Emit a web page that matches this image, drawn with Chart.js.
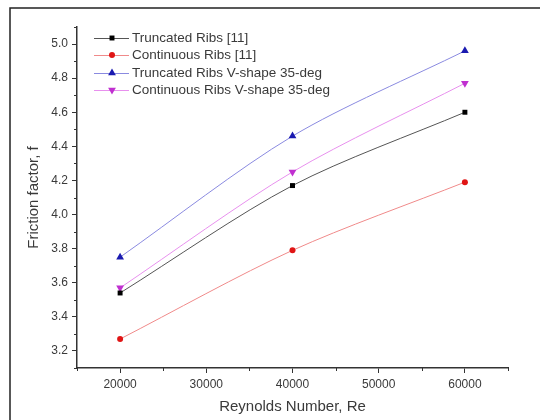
<!DOCTYPE html>
<html>
<head>
<meta charset="utf-8">
<script src="https://cdn.jsdelivr.net/npm/chart.js@4.4.1/dist/chart.umd.min.js"></script>
<style>
  html, body { margin: 0; padding: 0; background: #fff; }
  #wrap { width: 540px; height: 420px; }
</style>
</head>
<body>
<div id="wrap"><canvas id="frictionChart" width="540" height="420"></canvas></div>
<script>
// Reynolds number stations
const reynolds = [20000, 40000, 60000];

// friction factor per rib configuration
const truncatedRibs = [3.54, 4.17, 4.60];
const continuousRibs = [3.27, 3.79, 4.19];
const truncatedV35 = [3.75, 4.46, 4.96];
const continuousV35 = [3.57, 4.25, 4.77];

const seriesNames = [
    'Truncated Ribs [11]',
    'Continuous Ribs [11]',
    'Truncated Ribs V-shape 35-deg',
    'Continuous Ribs V-shape 35-deg'
];

// axis ticks
const xTicks = [20000, 30000, 40000, 50000, 60000];
const yTicks = [3.2, 3.4, 3.6, 3.8, 4.0, 4.2, 4.4, 4.6, 4.8, 5.0];
const xMinor = [15000, 25000, 35000, 45000, 55000, 65000];
const yMinor = [3.1, 3.3, 3.5, 3.7, 3.9, 4.1, 4.3, 4.5, 4.7, 4.9, 5.1];

const axisColor = '#333';
const textColor = '#3a3a3a';
const fontFamily = '"Liberation Sans", Arial, sans-serif';

function toPoints(vals) {
    return reynolds.map((re, i) => ({ x: re, y: vals[i] }));
}

function makeSet(label, vals, marker, lineColor, style, radius, rotation) {
    return {
        label: label,
        data: toPoints(vals),
        borderColor: lineColor,
        borderWidth: 1,
        backgroundColor: marker,
        pointBackgroundColor: marker,
        pointBorderColor: marker,
        pointBorderWidth: 0,
        pointStyle: style,
        pointRotation: rotation || 0,
        pointRadius: radius,
        tension: 0.3,
        fill: false
    };
}

// no down triangle in chart.js, so the last one is a rotated triangle
const datasets = [
    makeSet(seriesNames[0], truncatedRibs, '#000000', '#555555', 'rect', 3.5),
    makeSet(seriesNames[1], continuousRibs, '#e01515', '#f08a8a', 'circle', 3),
    makeSet(seriesNames[2], truncatedV35, '#1a1ab0', '#8a8ae0', 'triangle', 4.5),
    makeSet(seriesNames[3], continuousV35, '#c030d0', '#e890ee', 'triangle', 4.5, 180)
];

// outer frame, minor ticks and the in-plot legend
const extras = {
    id: 'extras',
    afterDraw(chart) {
        const ctx = chart.ctx;
        const xs = chart.scales.x;
        const ys = chart.scales.y;
        const area = chart.chartArea;

        ctx.save();
        ctx.strokeStyle = '#222';
        ctx.lineWidth = 1.5;
        ctx.strokeRect(10, 8, 700, 700);

        ctx.strokeStyle = axisColor;
        ctx.lineWidth = 1;
        ctx.beginPath();
        yMinor.forEach(v => {
            const py = Math.round(ys.getPixelForValue(v)) + 0.5;
            ctx.moveTo(area.left - 3, py);
            ctx.lineTo(area.left, py);
        });
        xMinor.forEach(v => {
            const px = Math.round(xs.getPixelForValue(v)) + 0.5;
            ctx.moveTo(px, area.bottom);
            ctx.lineTo(px, area.bottom + 3);
        });
        ctx.stroke();

        // legend rows
        const rowY = [38, 55, 73, 90];
        ctx.font = '13.5px ' + fontFamily;
        ctx.textBaseline = 'middle';
        ctx.textAlign = 'left';
        chart.data.datasets.forEach((ds, i) => {
            const y = rowY[i];
            ctx.strokeStyle = ds.borderColor;
            ctx.lineWidth = 1;
            ctx.beginPath();
            ctx.moveTo(94, y + 0.5);
            ctx.lineTo(129, y + 0.5);
            ctx.stroke();
            ctx.fillStyle = ds.pointBackgroundColor;
            ctx.strokeStyle = ds.pointBackgroundColor;
            Chart.helpers.drawPoint(ctx, {
                pointStyle: ds.pointStyle,
                radius: ds.pointRadius,
                rotation: ds.pointRotation,
                borderWidth: 0
            }, 112, y);
            ctx.fillStyle = textColor;
            ctx.fillText(ds.label, 132, y);
        });
        ctx.restore();
    }
};

new Chart(document.getElementById('frictionChart').getContext('2d'), {
    type: 'line',
    data: { datasets: datasets },
    options: {
        responsive: false,
        animation: false,
        layout: { padding: { top: 27, right: 32, left: 0, bottom: 0 } },
        plugins: {
            legend: { display: false },
            tooltip: { enabled: false }
        },
        scales: {
            x: {
                type: 'linear',
                min: 15000,
                max: 65000,
                afterFit: s => { s.height = 52; },
                afterBuildTicks: s => { s.ticks = xTicks.map(v => ({ value: v })); },
                border: { display: true, color: axisColor, width: 1.5 },
                grid: { drawOnChartArea: false, drawTicks: true, tickLength: 5, color: axisColor },
                ticks: {
                    color: textColor,
                    padding: 4,
                    maxRotation: 0,
                    font: { family: fontFamily, size: 12 },
                    callback: v => String(v)
                },
                title: {
                    display: true,
                    text: 'Reynolds Number, Re',
                    color: textColor,
                    font: { family: fontFamily, size: 15 },
                    padding: { top: 0, bottom: 4 }
                }
            },
            y: {
                type: 'linear',
                min: 3.1,
                max: 5.1,
                afterFit: s => { s.width = 77; },
                afterBuildTicks: s => { s.ticks = yTicks.map(v => ({ value: v })); },
                border: { display: true, color: axisColor, width: 1.5 },
                grid: { drawOnChartArea: false, drawTicks: true, tickLength: 5, color: axisColor },
                ticks: {
                    color: textColor,
                    padding: 4,
                    font: { family: fontFamily, size: 12 },
                    callback: v => Number(v).toFixed(1)
                },
                title: {
                    display: true,
                    text: 'Friction factor, f',
                    color: textColor,
                    font: { family: fontFamily, size: 15 },
                    padding: { top: 25, bottom: 0 }
                }
            }
        }
    },
    plugins: [extras]
});
</script>
</body>
</html>
